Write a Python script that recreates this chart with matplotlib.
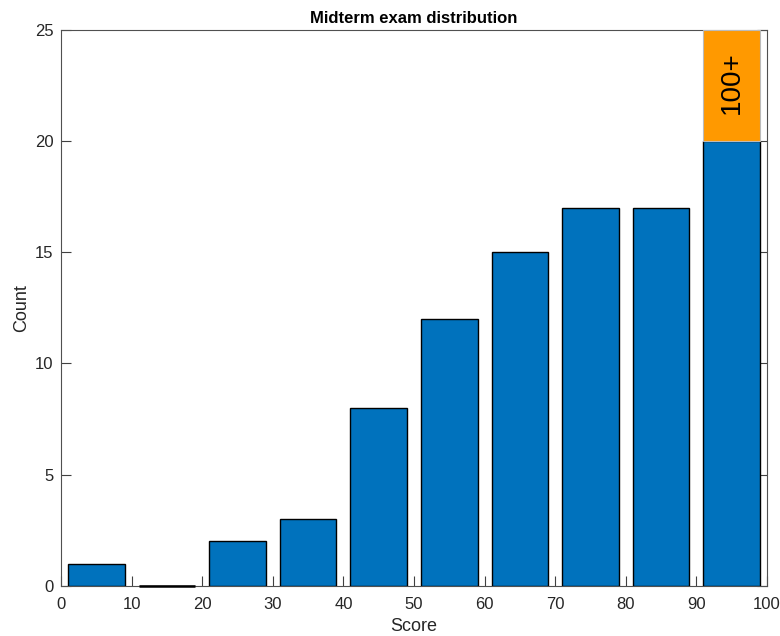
import matplotlib
matplotlib.use("Agg")
import matplotlib.pyplot as plt

plt.rcParams['font.family'] = ['Liberation Sans', 'DejaVu Sans']

centers = [5, 15, 25, 35, 45, 55, 65, 75, 85, 95]
counts = [1, 0, 2, 3, 8, 12, 15, 17, 17, 20]
overflow_center = 95
overflow_base = 20
overflow_height = 5
overflow_label = "100+"
xticks = [0, 10, 20, 30, 40, 50, 60, 70, 80, 90, 100]
yticks = [0, 5, 10, 15, 20, 25]
bar_width = 8

fig = plt.figure(figsize=(7.8, 6.36), dpi=100)
ax = fig.add_axes([0.0782, 0.0786, 0.9051, 0.875])

ax.bar(centers, counts, width=bar_width, color='#0072BD', edgecolor='black', linewidth=1.0, zorder=3)
# empty bins still show their edge line along the baseline
for c, v in zip(centers, counts):
    if v == 0:
        ax.plot([c - bar_width / 2, c + bar_width / 2], [v, v], color='black',
                lw=1.8, solid_capstyle='butt', zorder=4, clip_on=False)
ax.bar([overflow_center], [overflow_height], bottom=[overflow_base], width=bar_width,
       color='#FF9900', edgecolor='#BBBBBB', linewidth=0.8, zorder=3)
ax.text(overflow_center, overflow_base + overflow_height / 2 + 0.1, overflow_label,
        rotation=90, ha='center', va='center', fontsize=20, color='black', zorder=4)

ax.set_xlim(0, 100)
ax.set_ylim(0, 25)
ax.set_xticks(xticks)
ax.set_yticks(yticks)
ax.tick_params(direction='in', top=False, right=True, length=7, width=0.8,
               color='#404040', labelsize=12, labelcolor='#262626')
ax.tick_params(axis='x', pad=8)
ax.tick_params(axis='y', pad=5.5)
for s in ax.spines.values():
    s.set_color('#505050')
    s.set_linewidth(0.8)
ax.set_xlabel('Score', fontsize=13, color='#262626', labelpad=4)
ax.set_ylabel('Count', fontsize=13, color='#262626', labelpad=3)
ax.set_title('Midterm exam distribution', fontsize=12, fontweight='bold', pad=5)

fig.savefig('out.png', dpi=100)
